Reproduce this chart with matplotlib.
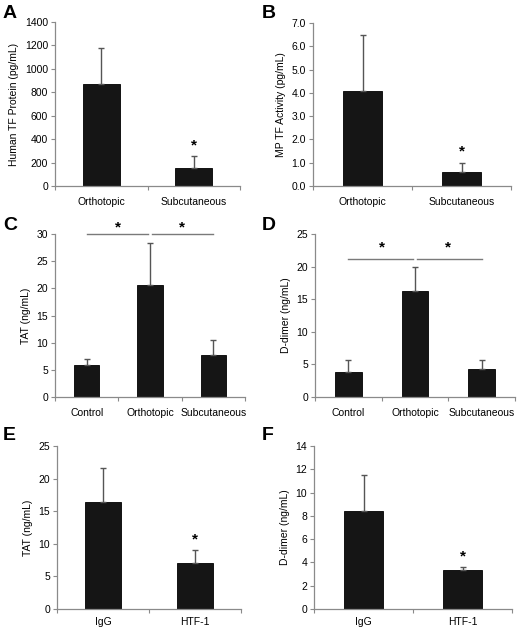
import matplotlib
matplotlib.use("Agg")
import matplotlib.pyplot as plt
from matplotlib.ticker import FormatStrFormatter

plt.rcParams['font.family'] = ['Liberation Sans', 'DejaVu Sans']

# ---- data ----
cats_ab = ["Orthotopic", "Subcutaneous"]
cats_cd = ["Control", "Orthotopic", "Subcutaneous"]
cats_ef = ["IgG", "HTF-1"]

a_vals = [870, 155]
a_err = [305, 100]
b_vals = [4.08, 0.60]
b_err = [2.40, 0.40]
c_vals = [5.8, 20.7, 7.7]
c_err = [1.2, 7.7, 2.7]
d_vals = [3.9, 16.2, 4.3]
d_err = [1.7, 3.8, 1.4]
e_vals = [16.4, 7.0]
e_err = [5.2, 2.0]
f_vals = [8.4, 3.35]
f_err = [3.1, 0.25]

W, H = 520, 636
fig = plt.figure(figsize=(W / 100, H / 100), dpi=100)

BAR = "#151515"
ERR = "#555555"
SPINE = "#8a8a8a"


def px_axes(x0, x1, ytop, ybot):
    return fig.add_axes([x0 / W, 1 - ybot / H, (x1 - x0) / W, (ybot - ytop) / H])


def panel(box, cats, vals, errs, ylim, yticks, ylabel, letter, fmt, letter_xy,
          stars=None, sig=None, sig_off=6, xpad=8):
    ax = px_axes(*box)
    n = len(cats)
    xs = list(range(n))
    ax.bar(xs, vals, width=0.4, color=BAR, edgecolor="#000000", linewidth=0.6, zorder=2)
    ax.errorbar(xs, vals, yerr=[[0] * n, errs], fmt="none", ecolor=ERR,
                elinewidth=1.0, capsize=2.5, capthick=1.0, zorder=3)
    ax.set_xlim(-0.5, n - 0.5)
    ax.set_ylim(*ylim)
    ax.set_yticks(yticks)
    ax.yaxis.set_major_formatter(FormatStrFormatter(fmt))
    ax.set_xticks([i - 0.5 for i in range(n + 1)])
    ax.set_xticklabels([])
    ax.set_xticks(xs, minor=True)
    ax.set_xticklabels(cats, minor=True)
    ax.tick_params(axis="x", which="minor", length=0, pad=xpad, labelsize=7.5)
    ax.tick_params(axis="x", which="major", length=3, color=SPINE, direction="out")
    ax.tick_params(axis="y", length=3, color=SPINE, labelsize=7.5, pad=2)
    for s in ["top", "right"]:
        ax.spines[s].set_visible(False)
    for s in ["left", "bottom"]:
        ax.spines[s].set_color(SPINE)
        ax.spines[s].set_linewidth(0.9)
    ax.set_ylabel(ylabel, fontsize=7.5, labelpad=4)
    fig.text(letter_xy[0] / W, 1 - letter_xy[1] / H, letter, fontsize=14,
             fontweight="bold", ha="left", va="center")
    if stars:
        for i in stars:
            ax.annotate("*", (xs[i], vals[i] + errs[i]), xytext=(0, 8),
                        textcoords="offset points", ha="center", va="center",
                        fontsize=11, fontweight="bold")
    if sig:
        yline = sig
        gap = 0.03
        for (i, j) in [(0, 1), (1, 2)]:
            x0 = xs[i] + (gap if i == 1 else 0)
            x1 = xs[j] - (gap if j == 1 else 0)
            ax.plot([x0, x1], [yline, yline], color="#7a7a7a", lw=1.0,
                    clip_on=False, zorder=4)
            ax.annotate("*", ((xs[i] + xs[j]) / 2, yline), xytext=(0, sig_off),
                        textcoords="offset points", ha="center", va="center",
                        fontsize=11, fontweight="bold", annotation_clip=False)
    return ax


panel((55, 240, 22, 186), cats_ab, a_vals, a_err, (0, 1400), range(0, 1401, 200),
      "Human TF Protein (pg/mL)", "A", "%d", (3, 14), stars=[1])
panel((313, 511, 23, 186), cats_ab, b_vals, b_err, (0, 7.0),
      [0, 1, 2, 3, 4, 5, 6, 7], "MP TF Activity (pg/mL)", "B", "%.1f", (262, 14), stars=[1])
panel((55, 245, 234, 397), cats_cd, c_vals, c_err, (0, 30), range(0, 31, 5),
      "TAT (ng/mL)", "C", "%d", (3, 225), sig=30, sig_off=5)
panel((315, 515, 234, 397), cats_cd, d_vals, d_err, (0, 25), range(0, 26, 5),
      "D-dimer (ng/mL)", "D", "%d", (262, 225), sig=21.2, sig_off=8)
panel((57, 241, 446, 609), cats_ef, e_vals, e_err, (0, 25), range(0, 26, 5),
      "TAT (ng/mL)", "E", "%d", (3, 436), stars=[1], xpad=6)
panel((314, 512, 446, 609), cats_ef, f_vals, f_err, (0, 14), range(0, 15, 2),
      "D-dimer (ng/mL)", "F", "%d", (262, 436), stars=[1], xpad=6)

fig.savefig("out.png", dpi=100)
